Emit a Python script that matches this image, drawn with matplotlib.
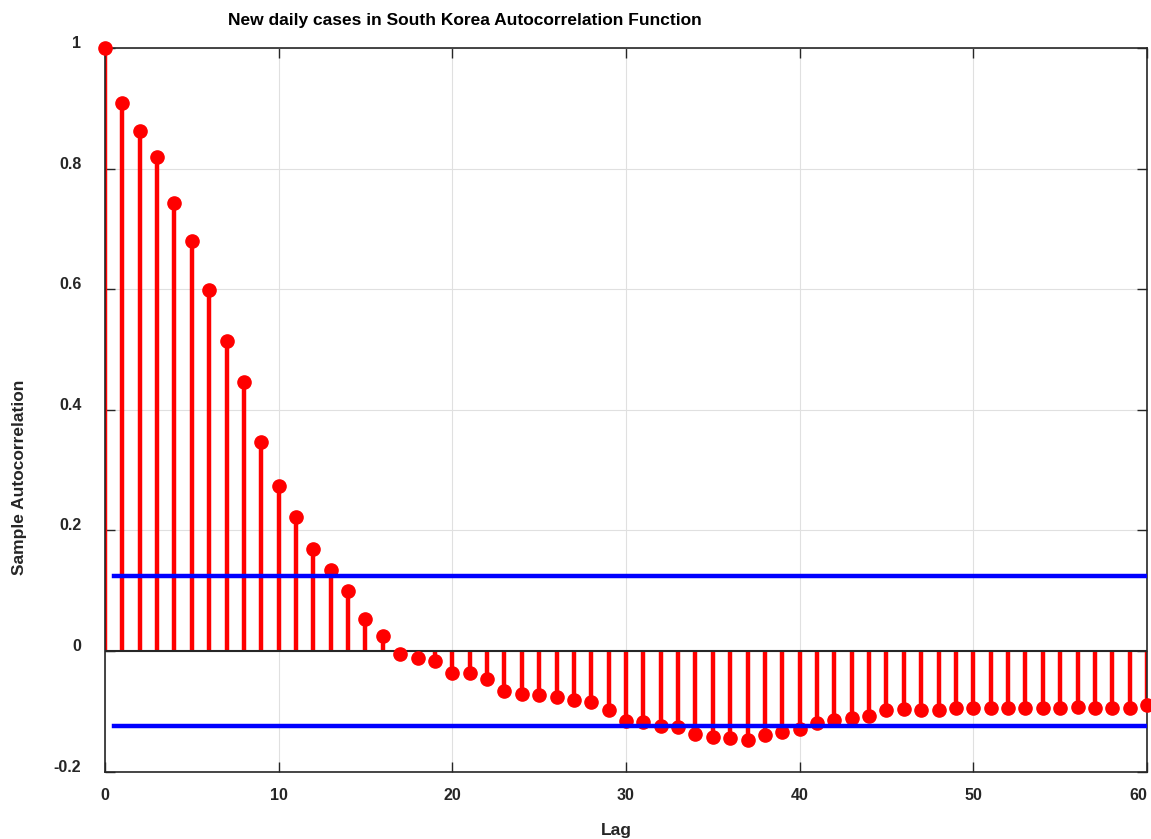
import numpy as np
import matplotlib
matplotlib.use('Agg')
import matplotlib.pyplot as plt

# sample autocorrelation, lags 0..60
lags = np.arange(0, 61)
acf = [1.000, 0.909, 0.862, 0.819, 0.743, 0.680, 0.599, 0.514, 0.446, 0.347,
       0.274, 0.222, 0.169, 0.134, 0.100, 0.053, 0.025, -0.005, -0.012, -0.017,
       -0.036, -0.036, -0.047, -0.067, -0.072, -0.073, -0.077, -0.082, -0.084, -0.097,
       -0.116, -0.117, -0.125, -0.126, -0.138, -0.142, -0.145, -0.148, -0.140, -0.135,
       -0.130, -0.119, -0.114, -0.111, -0.107, -0.098, -0.096, -0.097, -0.097, -0.094,
       -0.094, -0.095, -0.095, -0.095, -0.094, -0.094, -0.093, -0.094, -0.094, -0.094,
       -0.090]
bound = 0.1245
bound_span = [0.5, 60]

xticks = [0, 10, 20, 30, 40, 50, 60]
yticks = [-0.2, 0, 0.2, 0.4, 0.6, 0.8, 1]
ytick_labels = ['-0.2', '0', '0.2', '0.4', '0.6', '0.8', '1']

plt.rcParams['font.family'] = ['Liberation Sans', 'DejaVu Sans']
plt.rcParams['font.weight'] = 'bold'

fig = plt.figure(figsize=(11.51, 8.39), dpi=100)
ax = fig.add_axes([0.0912, 0.0803, 0.9053, 0.8625])

dark = '#262626'

# stems
ml, sl, bl = ax.stem(lags, acf, linefmt='r-', markerfmt='ro', basefmt='k-')
plt.setp(sl, linewidth=3.2, color='red')
plt.setp(ml, markersize=9.5, color='red', clip_on=False, zorder=4)
plt.setp(bl, linewidth=1.5, color=dark)
bl.set_xdata([0, 60])

# confidence bounds
ax.plot(bound_span, [bound, bound], color='blue', linewidth=3.2, zorder=5)
ax.plot(bound_span, [-bound, -bound], color='blue', linewidth=3.2, zorder=5)

ax.set_xlim(0, 60)
ax.set_ylim(-0.2, 1)
ax.set_xticks(xticks)
ax.set_yticks(yticks)
ax.set_yticklabels(ytick_labels)
ax.grid(True, color='#e0e0e0', linewidth=0.8)
ax.set_axisbelow(True)
ax.tick_params(direction='in', top=True, right=True, length=7, width=1,
               colors=dark, labelsize=11.5)
ax.tick_params(axis='x', pad=12)
ax.tick_params(axis='y', pad=17)
for lab in ax.get_yticklabels():
    lab.set_va('baseline')
ax.get_xticklabels()[-1].set_ha('right')
for s in ax.spines.values():
    s.set_color(dark)
    s.set_linewidth(1.2)

fig.text(616 / 1151, 1 - 830 / 839, 'Lag', ha='center', va='center',
         fontsize=12.5, fontweight='bold', color=dark)
fig.text(20 / 1151, 1 - 477 / 839, 'Sample Autocorrelation', ha='center', va='center',
         rotation=90, fontsize=12.5, fontweight='bold', color=dark)
fig.text(465 / 1151, 1 - 21 / 839, 'New daily cases in South Korea Autocorrelation Function',
         ha='center', va='center', fontsize=12.5, fontweight='bold', color='black')

fig.savefig('out.png', dpi=100)
